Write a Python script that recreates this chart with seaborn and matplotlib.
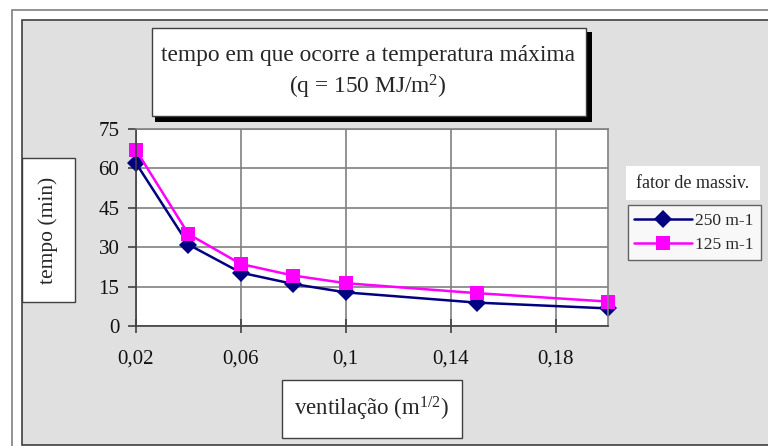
import matplotlib
matplotlib.use("Agg")
import matplotlib.pyplot as plt
from matplotlib.patches import Rectangle
from matplotlib.lines import Line2D
import seaborn as sns
import pandas as pd

# ---- data ----
ventilacao = [0.02, 0.04, 0.06, 0.08, 0.10, 0.15, 0.20]
tempo_250 = [62, 31, 20.3, 16, 12.8, 8.9, 6.7]
tempo_125 = [67, 35, 23.6, 19.2, 16.3, 12.5, 9.3]
series_names = ["250 m-1", "125 m-1"]
series_colors = ["#000080", "#ff00ff"]
series_markers = ["D", "s"]
xticks = [0.02, 0.06, 0.10, 0.14, 0.18]
xticklabels = ["0,02", "0,06", "0,1", "0,14", "0,18"]
yticks = [0, 15, 30, 45, 60, 75]

df = pd.DataFrame({
    "ventilacao": ventilacao * 2,
    "tempo": tempo_250 + tempo_125,
    "fator": [series_names[0]] * len(ventilacao) + [series_names[1]] * len(ventilacao),
})

sns.set_theme(style="white")
plt.rcParams["font.family"] = ["Liberation Serif", "DejaVu Serif"]
plt.rcParams["mathtext.fontset"] = "custom"
plt.rcParams["mathtext.rm"] = "Liberation Serif"
plt.rcParams["mathtext.it"] = "Liberation Serif:italic"

W, H = 768, 446
fig = plt.figure(figsize=(W / 100, H / 100), dpi=100)
fig.patch.set_facecolor("white")


def fx(px):
    return px / W


def fy(py):
    return 1 - py / H


def rect(x0, y0, x1, y1, **kw):
    r = Rectangle((fx(x0), fy(y1)), fx(x1) - fx(x0), fy(y0) - fy(y1),
                  transform=fig.transFigure, **kw)
    fig.patches.append(r)
    return r


# outer frame and grey chart area
rect(12, 10, 820, 500, facecolor="white", edgecolor="#808080", lw=1.2, zorder=-3)
rect(21.5, 20, 820, 445, facecolor="#e0e0e0", edgecolor="#404040", lw=1.2, zorder=-2)

# plot area
ax = fig.add_axes([fx(136), fy(326), fx(608) - fx(136), fy(129) - fy(326)])
ax.set_zorder(1)
ax.set_facecolor("white")

palette = dict(zip(series_names, series_colors))
markers = dict(zip(series_names, series_markers))
sns.lineplot(data=df, x="ventilacao", y="tempo", hue="fator", style="fator",
             hue_order=series_names, style_order=series_names,
             palette=palette, markers=markers,
             dashes=False, markersize=9.5, markeredgewidth=0, linewidth=1.8,
             clip_on=False, ax=ax, legend=False)

ax.set_xlim(0.02, 0.20)
ax.set_ylim(0, 75)
ax.set_xticks(xticks)
ax.set_xticklabels(xticklabels)
ax.set_yticks(yticks)
ax.set_xlabel("")
ax.set_ylabel("")
ax.grid(True, color="#808080", lw=1.2)
ax.set_axisbelow(True)
for s in ax.spines.values():
    s.set_color("#808080")
    s.set_linewidth(1.2)
ax.spines["left"].set_color("#404040")
ax.spines["bottom"].set_color("#404040")
ax.tick_params(axis="y", direction="out", length=6, width=1.2, color="#404040",
               labelsize=15, pad=6, left=True)
ax.tick_params(axis="x", direction="inout", length=10, width=1.2, color="#404040",
               labelsize=15, pad=12, bottom=True)
for t in ax.get_xticklabels() + ax.get_yticklabels():
    t.set_color("#111111")

# title box with shadow
rect(155, 32, 592, 121.5, facecolor="black", edgecolor="none", zorder=2)
rect(152, 28, 586, 116, facecolor="white", edgecolor="#404040", lw=1, zorder=3)
fig.text(fx(368), fy(55), "tempo em que ocorre a temperatura máxima",
         ha="center", va="center", fontsize=16.8, zorder=4)
fig.text(fx(368), fy(87), "(q = 150 MJ/m$^{2}$)",
         ha="center", va="center", fontsize=16.8, zorder=4)

# y label box
rect(22, 158, 75, 302, facecolor="white", edgecolor="#404040", lw=1, zorder=3)
fig.text(fx(48.5), fy(230), "tempo (min)", rotation=90,
         ha="center", va="center", fontsize=15.5, zorder=4)

# x label box
rect(282, 380, 462, 438, facecolor="white", edgecolor="#404040", lw=1, zorder=3)
fig.text(fx(371), fy(409), "ventilação (m$^{1/2}$)",
         ha="center", va="center", fontsize=16.5, zorder=4)

# legend title box
rect(626, 166, 760, 200, facecolor="white", edgecolor="none", zorder=3)
fig.text(fx(693), fy(183), "fator de massiv.",
         ha="center", va="center", fontsize=13, zorder=4)

# legend
handles = [Line2D([], [], color=c, marker=m, markersize=10 if m == "s" else 9.5,
                  markeredgewidth=0, lw=1.8)
           for c, m in zip(series_colors, series_markers)]
leg = ax.legend(handles, series_names, loc="upper left",
                bbox_to_anchor=(fx(627.5), fy(205.5)), bbox_transform=fig.transFigure,
                frameon=True, fancybox=False, edgecolor="#404040", facecolor="white",
                fontsize=12.5, handlelength=3.3, handletextpad=0.2, borderpad=0.4,
                labelspacing=0.5, borderaxespad=0)
leg.get_frame().set_linewidth(1)
leg.set_zorder(5)

fig.savefig("out.png", dpi=100)
